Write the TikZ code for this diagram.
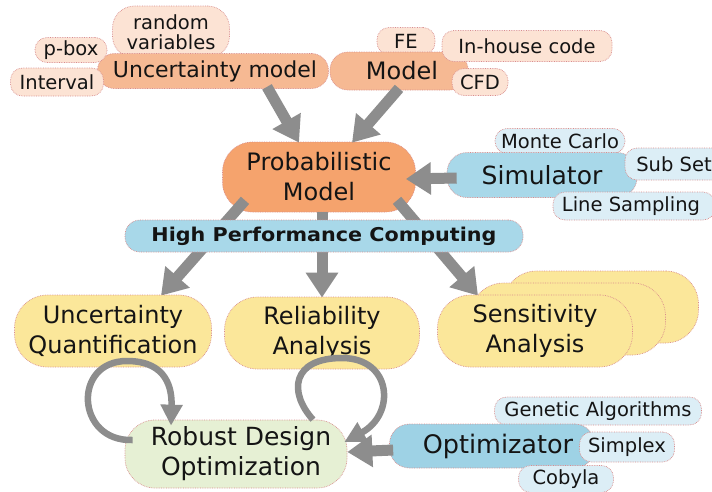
\documentclass[tikz,border=0pt]{standalone}
\usepackage{fontspec}
\setmainfont{DejaVu Sans}
\usetikzlibrary{arrows.meta,calc}
\pgfdeclarelayer{bgw}
\pgfdeclarelayer{low}
\pgfdeclarelayer{arr}
\pgfsetlayers{bgw,low,arr,main}
\definecolor{bord}{HTML}{D98C8C}
\definecolor{orBub}{HTML}{FCE3D4}
\definecolor{orMid}{HTML}{F6B993}
\definecolor{orDark}{HTML}{F5A36D}
\definecolor{blMid}{HTML}{A8D8E9}
\definecolor{blOpt}{HTML}{9ED2E5}
\definecolor{blBub}{HTML}{DCEEF6}
\definecolor{yel}{HTML}{FBE79A}
\definecolor{grn}{HTML}{E6F0D4}
\definecolor{arrg}{HTML}{8D8D8D}
\definecolor{txt}{HTML}{141414}
\tikzset{
  pill/.style={draw=bord, densely dotted, line width=0.7pt, rounded corners=#1,
    inner sep=0pt, align=center, text=txt},
  bub/.style={pill=12pt, font=\fontsize{19.5}{21}\selectfont},
  orb/.style={bub, fill=orBub},
  blb/.style={bub, fill=blBub},
  mainlbl/.style={font=\fontsize{24}{30}\selectfont},
  bigarrow/.style={draw=arrg, line width=11pt, -{Triangle[length=25pt,width=31pt]}},
  looparrow/.style={draw=arrg, line width=6.5pt, -{Triangle[length=21pt,width=21pt]}},
}
\begin{document}
\begin{tikzpicture}[x=1pt,y=-1pt]
\clip (0,0) rectangle (712,491);
\begin{pgfonlayer}{bgw}
\fill[white] (0,0) rectangle (712,491);
\end{pgfonlayer}

\begin{pgfonlayer}{low}
% bubbles behind
\node[orb, minimum width=117, minimum height=52, rounded corners=22pt] (rv) at (171,32) {random\\[-1pt]variables};
\node[orb] (fe) [minimum width=58, minimum height=27] at (406,41) {FE};
\node[blb] (mc) [minimum width=130, minimum height=25] at (560,141) {Monte Carlo};
\node[blb] (ga) [minimum width=207, minimum height=28] at (598,411) {Genetic Algorithms};
% main boxes
\node[pill=17pt, fill=orMid, minimum width=231, minimum height=35, font=\fontsize{22}{24}\selectfont] (um) at (213,71) {\hspace*{4pt}Uncertainty model};
\node[pill=18pt, fill=orMid, minimum width=138, minimum height=38, mainlbl] (model) at (399,71) {\hspace*{6pt}Model};
\node[orb] (inh) [minimum width=170, minimum height=31] at (527,46) {In-house code};
\node[pill=20pt, fill=blMid, minimum width=190, minimum height=45, font=\fontsize{25}{30}\selectfont] (sim) at (542,175) {Simulator};
\node[pill=20pt, fill=blOpt, minimum width=205, minimum height=44, font=\fontsize{25.5}{30}\selectfont] (opt) at (492,446) {\hspace*{12pt}Optimizator};
% bubbles in front
\node[orb] (pbox) [minimum width=72, minimum height=25] at (71,50) {p-box};
\node[orb] (intv) [minimum width=93, minimum height=28] at (57,82) {Interval};
\node[orb] (cfd) [minimum width=56, minimum height=27] at (480,82) {CFD};
\node[blb] (subset) [minimum width=102, minimum height=32] at (676,164) {\hspace*{-4pt}Sub Set};
\node[blb] (ls) [minimum width=162, minimum height=28] at (634,206) {\hspace*{-6pt}Line Sampling};
\node[blb] (simplex) [minimum width=95, minimum height=30] at (627,447) {Simplex};
\node[blb] (cobyla) [minimum width=95, minimum height=27] at (566,479) {Cobyla};
% probabilistic model and robust design
\node[pill=30pt, fill=orDark, minimum width=193, minimum height=70, mainlbl] (pm) at (319,177) {Probabilistic\\Model};
\node[pill=30pt, fill=grn, minimum width=222, minimum height=68, font=\fontsize{25}{30}\selectfont] (rdo) at (236,454) {\hspace*{10pt}Robust Design\\\hspace*{10pt}Optimization};
\end{pgfonlayer}

% analysis boxes and HPC (front layer)
\node[pill=15pt, fill=blMid, minimum width=398, minimum height=32] (hpc) at (324,236)
  {\scalebox{1.09}[1]{\fontsize{19}{20}\selectfont\bfseries High Performance Computing}};
\node[pill=33pt, fill=yel, minimum width=195, minimum height=72] (sa3) at (601,307) {};
\node[pill=33pt, fill=yel, minimum width=195, minimum height=72] (sa2) at (568,319) {};
\node[pill=33pt, fill=yel, minimum width=197, minimum height=72, mainlbl] (uq) at (113,331) {Uncertainty\\Quantification};
\node[pill=33pt, fill=yel, minimum width=195, minimum height=72, mainlbl] (ra) at (322,333) {Reliability\\Analysis};
\node[pill=33pt, fill=yel, minimum width=195, minimum height=72, mainlbl] (sa) at (535,331) {Sensitivity\\Analysis};

\begin{pgfonlayer}{arr}
\draw[bigarrow] ($(um.south)+(54,-2)$) -- ($(pm.north)+(-20,1)$);
\draw[bigarrow] ($(model.south)+(0,-2)$) -- ($(pm.north)+(33,1)$);
\draw[bigarrow] ($(sim.west)+(10,3)$) -- ($(pm.east)+(-10,2)$);
\draw[bigarrow] ($(pm.south)+(-74,-12)$) -- ($(uq.north)+(48,1)$);
\draw[bigarrow] (pm.south -| ra.north) -- ($(ra.north)+(0,1)$);
\draw[bigarrow] ($(pm.south)+(78,-12)$) -- ($(sa.north)+(-57,1)$);
\draw[bigarrow] ($(opt.west)+(4,4)$) -- ($(rdo.east)+(0,-2)$);
\end{pgfonlayer}

% loops (drawn over the boxes)
\draw[looparrow] ($(rdo.west)+(8,-14)$) .. controls (76,442) and (72,361) .. (127,361)
  .. controls (168,361) and (172,390) .. ($(rdo.north)+(-65,6)$);
\draw[looparrow] ($(rdo.north)+(77,0)$) .. controls (288,392) and (292,358) .. (342,358)
  .. controls (392,358) and (396,414) .. ($(rdo.east)+(-3,-12)$);
\end{tikzpicture}
\end{document}
